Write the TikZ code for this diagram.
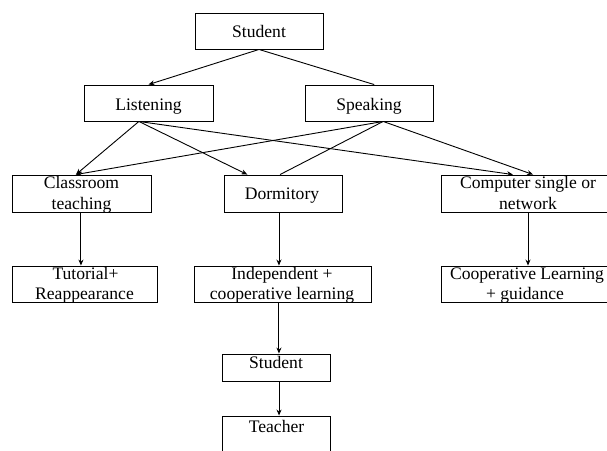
\documentclass[tikz,border=0pt]{standalone}
\usepackage{fontspec}
\setmainfont{Liberation Serif}
\usetikzlibrary{arrows.meta,calc}
\begin{document}
\begin{tikzpicture}[x=1pt,y=-1pt,
  box/.style={draw=black,line width=0.9pt,inner sep=0pt,rectangle},
  lbl/.style={inner sep=0pt,anchor=base,font=\fontsize{17.6}{21}\selectfont},
  con/.style={line width=0.9pt},
  arr/.style={con,-{Stealth[length=6pt,width=5pt]}}]
\useasboundingbox (0,0) rectangle (607,450);
% boxes
\node[box,minimum width=128pt,minimum height=36pt] (s1) at (259,31) {};
\node[box,minimum width=129pt,minimum height=36pt] (lis) at (148.5,103) {};
\node[box,minimum width=128pt,minimum height=36pt] (spk) at (369,103) {};
\node[box,minimum width=139pt,minimum height=37pt] (cls) at (81.5,193.5) {};
\node[box,minimum width=118pt,minimum height=37pt] (dor) at (283,193.5) {};
\node[box,minimum width=174pt,minimum height=37pt] (cmp) at (528,193.5) {};
\node[box,minimum width=145pt,minimum height=36pt] (tut) at (84.5,284) {};
\node[box,minimum width=177pt,minimum height=36pt] (ind) at (282.5,284) {};
\node[box,minimum width=174pt,minimum height=36pt] (coop) at (528,284) {};
\node[box,minimum width=108pt,minimum height=27pt] (s2) at (276,367.5) {};
\node[box,minimum width=108pt,minimum height=40pt] (tch) at (276,436) {};
% labels
\node[lbl] (ts1) at (259,37) {Student};
\node[lbl] (tlis) at (148.5,110) {Listening};
\node[lbl] (tspk) at (369,110) {Speaking};
\node[lbl] (tcls1) at (81.5,188) {Classroom};
\node[lbl] (tcls2) at (81.5,209) {teaching};
\node[lbl] (tdor) at (282,199) {Dormitory};
\node[lbl] (tcmp1) at (528,188) {Computer single or};
\node[lbl] (tcmp2) at (528,209) {network};
\node[lbl] (ttut1) at (85.5,279) {Tutorial+};
\node[lbl] (ttut2) at (84.5,299) {Reappearance};
\node[lbl] (tind1) at (282,279) {Independent +};
\node[lbl] (tind2) at (282,299) {cooperative learning};
\node[lbl] (tcoop1) at (527,279) {Cooperative Learning};
\node[lbl] (tcoop2) at (525,299) {+ guidance};
\node[lbl] (ts2) at (276,368) {Student};
\node[lbl] (ttch) at (276.5,432) {Teacher};
% connection points
\coordinate (lisB) at ($(lis.south west)!0.426!(lis.south east)$);
\coordinate (spkB) at ($(spk.south west)!0.61!(spk.south east)$);
\coordinate (spkT) at ($(spk.north west)!0.54!(spk.north east)$);
\coordinate (clsT) at ($(cls.north west)!0.46!(cls.north east)$);
\coordinate (dorT1) at ($(dor.north west)!0.2!(dor.north east)$);
\coordinate (dorT2) at ($(dor.north west)!0.475!(dor.north east)$);
\coordinate (cmpT1) at ($(cmp.north west)!0.414!(cmp.north east)$);
\coordinate (cmpT2) at ($(cmp.north west)!0.529!(cmp.north east)$);
\coordinate (clsB) at ($(cls.south west)!0.496!(cls.south east)$);
\coordinate (dorB) at ($(dor.south west)!0.466!(dor.south east)$);
\coordinate (indB) at ($(ind.south west)!0.48!(ind.south east)$);
\coordinate (s2B) at ($(s2.south west)!0.528!(s2.south east)$);
% connectors
\draw[arr] (s1.south) -- (lis.north);
\draw[con] (s1.south) -- (spkT);
\draw[arr] (lisB) -- (clsT);
\draw[arr] (spkB) -- (clsT);
\draw[arr] (lisB) -- (dorT1);
\draw[con] (spkB) -- (dorT2);
\draw[arr] (lisB) -- (cmpT1);
\draw[arr] (spkB) -- (cmpT2);
\draw[arr] (clsB) -- (clsB |- tut.north);
\draw[arr] (dorB) -- (dorB |- ind.north);
\draw[arr] (cmp.south) -- (coop.north);
\draw[arr] (indB) -- (indB |- s2.north);
\draw[arr] (s2B) -- (s2B |- tch.north);
\end{tikzpicture}
\end{document}
